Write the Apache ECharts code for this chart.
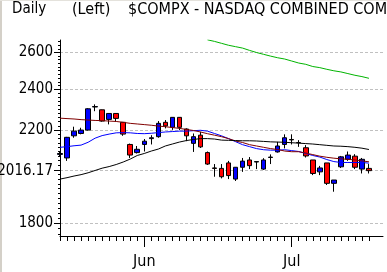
<!DOCTYPE html>
<html>
<head>
<meta charset="utf-8">
<script src="https://cdn.jsdelivr.net/npm/echarts@6/dist/echarts.min.js"></script>
<style>
    html, body {margin: 0; padding: 0; background: #fff;}
    #main {width: 387px; height: 272px;}
</style>
</head>
<body>
<div id="main"></div>
<script>
// trading days shown on the x axis
const dates = [
    '05/15', '05/16', '05/17', '05/18', '05/21', '05/22', '05/23', '05/24', '05/25', '05/29', '05/30', '05/31',
    '06/01', '06/04', '06/05', '06/06', '06/07', '06/08', '06/11', '06/12', '06/13', '06/14', '06/15',
    '06/18', '06/19', '06/20', '06/21', '06/22', '06/25', '06/26', '06/27', '06/28', '06/29',
    '07/02', '07/03', '07/05', '07/06', '07/09', '07/10', '07/11', '07/12', '07/13', '07/16', '07/17', '07/18',
    '', ''
];
const monthNames = {'05': 'May', '06': 'Jun', '07': 'Jul'};

// daily OHLC
const opens  = [2088, 2072, 2173, 2184, 2200, 2312, 2298, 2251, 2280, 2237, 2133, 2096, 2133, 2160, 2169, 2237,
    2213, 2261, 2205, 2138, 2176, 2096, 2028, 2026, 2050, 1980, 2031, 2063, 2054, 2023, 2074, 2099, 2133, 2156,
    2142, 2118, 2063, 2011, 2050, 1962, 2033, 2066, 2080, 2023, 2026];
const closes = [2092, 2166, 2195, 2200, 2303, 2314, 2243, 2280, 2256, 2181, 2085, 2111, 2148, 2164, 2232, 2220,
    2261, 2213, 2173, 2169, 2122, 2045, 2026, 1990, 1995, 2031, 2058, 2038, 2056, 2063, 2076, 2126, 2164, 2154,
    2141, 2081, 2004, 2028, 1962, 1976, 2077, 2085, 2031, 2066, 2016.17];
const lows   = [2080, 2059, 2164, 2180, 2198, 2291, 2240, 2227, 2240, 2173, 2072, 2092, 2101, 2133, 2164, 2208,
    2201, 2200, 2148, 2099, 2117, 2041, 1990, 1983, 1980, 1972, 2011, 2023, 2023, 2019, 2045, 2096, 2115, 2133,
    2122, 2074, 1997, 1997, 1955, 1927, 2028, 2059, 2023, 2004, 2004];
const highs  = [2102, 2168, 2216, 2211, 2306, 2325, 2299, 2281, 2281, 2238, 2137, 2126, 2158, 2176, 2243, 2248,
    2262, 2262, 2208, 2184, 2192, 2101, 2045, 2045, 2059, 2032, 2072, 2076, 2057, 2071, 2088, 2145, 2180, 2180,
    2153, 2130, 2063, 2037, 2050, 1976, 2081, 2101, 2089, 2072, 2045];

// moving averages
const maShort = [2120, 2123, 2127, 2130, 2143, 2162, 2174, 2181, 2187, 2188, 2187, 2184, 2183, 2185, 2188, 2191,
    2193, 2195, 2195, 2197, 2199, 2195, 2184, 2173, 2160, 2146, 2132, 2123, 2114, 2109, 2107, 2107, 2109, 2105,
    2101, 2092, 2083, 2076, 2065, 2056, 2052, 2052, 2052, 2052, 2049];
const maMid = [2257, 2255, 2253, 2250, 2248, 2246, 2245, 2243, 2241, 2237, 2232, 2229, 2226, 2223, 2219, 2216,
    2212, 2208, 2203, 2198, 2191, 2183, 2176, 2169, 2160, 2149, 2142, 2132, 2126, 2120, 2114, 2110, 2103, 2100,
    2100, 2094, 2087, 2080, 2075, 2071, 2068, 2066, 2063, 2059, 2055];
const maLong = [1980, 1986, 1993, 1999, 2007, 2017, 2027, 2034, 2043, 2054, 2067, 2083, 2092, 2103, 2112, 2126,
    2135, 2144, 2151, 2156, 2160, 2160, 2158, 2153, 2152, 2151, 2150, 2150, 2149, 2147, 2145, 2144, 2143, 2141,
    2139, 2137, 2135, 2132, 2129, 2126, 2125, 2123, 2120, 2116, 2110];
const maVeryLong = [null, null, null, null, null, null, null, null, null, null, null, null, null, null, null, null,
    null, null, null, null, null, 2671, 2662, 2651, 2640, 2632, 2624, 2611, 2599, 2589, 2579, 2570, 2563, 2552,
    2541, 2534, 2522, 2516, 2507, 2499, 2493, 2484, 2475, 2468, 2459];

// y axis labels (last one is the latest close)
const yLabels = [1800, 2016.17, 2200, 2400, 2600];

const FONT = '"DejaVu Sans Condensed", "DejaVu Sans", sans-serif';
const Y_MIN = 1752, Y_MAX = 2670;

const candleData = opens.map((o, i) => [o, closes[i], lows[i], highs[i]]);

// small ticks every 20 points along the y axis
let minorTicks = [];
for (let v = 1760; v <= Y_MAX; v += 20) minorTicks.push(v);

const isMonthStart = (idx) => idx > 0 && idx < 45 && dates[idx].slice(0, 2) !== dates[idx - 1].slice(0, 2);

const chart = echarts.init(document.getElementById('main'), null, {renderer: 'canvas'});

const lineSeries = (data, color) => ({
    type: 'line',
    data: data,
    symbol: 'none',
    smooth: false,
    clip: true,
    z: 3,
    lineStyle: {color: color, width: 1},
    itemStyle: {color: color},
    animation: false
});

chart.setOption({
    animation: false,
    backgroundColor: '#fff',
    graphic: [
        // window frame on the left and top edge
        {type: 'rect', left: 0, top: 0, shape: {width: 2, height: 272}, style: {fill: '#d4d0c8'}, silent: true},
        {type: 'rect', left: 0, top: 0, shape: {width: 387, height: 1}, style: {fill: '#e4e2dc'}, silent: true},
        {type: 'text', left: 12, top: 2, style: {text: 'Daily', font: '15px ' + FONT, fill: '#000'}},
        {type: 'text', left: 72, top: 2, style: {text: '(Left)', font: '16px ' + FONT, fill: '#000'}},
        {type: 'text', left: 128, top: 2, style: {text: '$COMPX - NASDAQ COMBINED COMPOSITE INDEX', font: '16px ' + FONT, fill: '#000'}}
    ],
    grid: {left: 60, right: 4, top: 40, bottom: 36, containLabel: false, outerBoundsMode: 'none'},
    xAxis: [
        {
            type: 'category',
            position: 'bottom',
            data: dates,
            boundaryGap: false,
            axisLine: {lineStyle: {color: '#000', width: 1}},
            axisTick: {length: 5, interval: (idx) => idx <= 44, lineStyle: {color: '#000'}},
            axisLabel: {show: false},
            splitLine: {show: false}
        },
        {
            type: 'category',
            position: 'bottom',
            offset: 0,
            data: dates,
            boundaryGap: false,
            axisLine: {show: false},
            axisTick: {length: 11, interval: (idx) => isMonthStart(idx), lineStyle: {color: '#000'}},
            axisLabel: {
                interval: (idx) => isMonthStart(idx),
                formatter: (val) => monthNames[val.slice(0, 2)] || '',
                margin: 18,
                color: '#000',
                fontFamily: FONT,
                fontSize: 16
            },
            splitLine: {show: false}
        }
    ],
    yAxis: [
        {
            type: 'log',
            min: Y_MIN,
            max: Y_MAX,
            position: 'left',
            axisLine: {show: true, lineStyle: {color: '#000', width: 1}},
            axisTick: {show: true, length: 2, customValues: minorTicks, lineStyle: {color: '#000'}},
            axisLabel: {show: false},
            splitLine: {show: false}
        },
        {
            type: 'log',
            min: Y_MIN,
            max: Y_MAX,
            position: 'left',
            offset: 0,
            axisLine: {show: false},
            axisTick: {show: true, length: 6, customValues: yLabels, lineStyle: {color: '#000'}},
            axisLabel: {
                customValues: yLabels,
                formatter: (v) => String(v),
                margin: 7,
                color: '#000',
                fontFamily: FONT,
                fontSize: 15
            },
            splitLine: {show: true, lineStyle: {color: '#c0c0c0', type: [3, 2], width: 1}}
        }
    ],
    series: [
        {
            type: 'candlestick',
            data: candleData,
            barWidth: 5,
            z: 2,
            itemStyle: {
                color: '#0000ff',
                color0: '#ff0000',
                borderColor: '#000',
                borderColor0: '#000',
                borderWidth: 1
            }
        },
        lineSeries(maShort, '#0000ff'),
        lineSeries(maMid, '#800000'),
        lineSeries(maLong, '#000000'),
        lineSeries(maVeryLong, '#00b400')
    ]
});
</script>
</body>
</html>
